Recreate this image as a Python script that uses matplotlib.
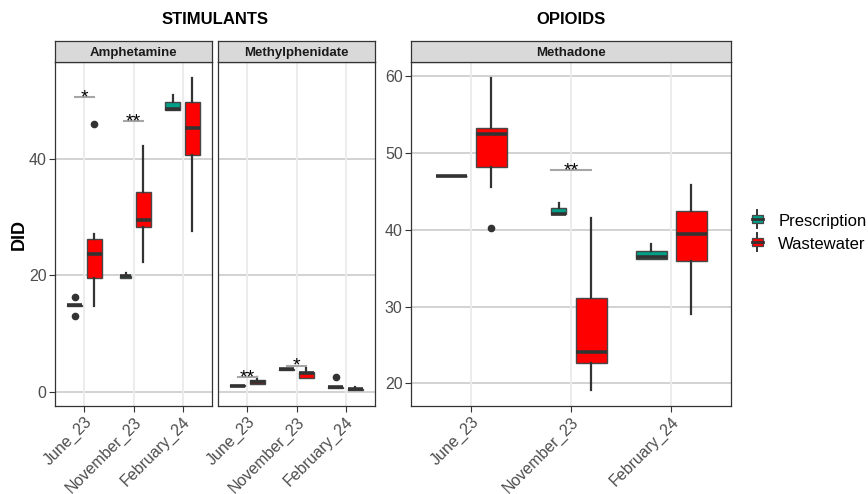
import matplotlib
matplotlib.use("Agg")
import matplotlib.pyplot as plt
from matplotlib.legend_handler import HandlerBase
from matplotlib.lines import Line2D
from matplotlib.patches import Rectangle

plt.rcParams["font.family"] = ["Liberation Sans", "DejaVu Sans"]

MONTHS = ["June_23", "November_23", "February_24"]
GROUPS = ["Prescription", "Wastewater"]

# five-number summaries per month: (whisker low, q1, median, q3, whisker high)
AMPH_PRESC = [(14.8, 14.8, 14.85, 14.9, 14.9), (19.6, 19.6, 19.8, 19.9, 20.3), (48.3, 48.3, 48.5, 49.7, 51.0)]
AMPH_PRESC_OUT = [[16.2, 13.0], [], []]
AMPH_WASTE = [(14.7, 19.6, 23.6, 26.2, 27.0), (22.2, 28.2, 29.5, 34.3, 42.2), (27.6, 40.6, 45.2, 49.7, 53.9)]
AMPH_WASTE_OUT = [[46.0], [], []]

MPH_PRESC = [(0.95, 0.95, 1.0, 1.1, 1.1), (3.8, 3.8, 3.85, 3.95, 3.95), (0.7, 0.7, 0.75, 0.85, 0.85)]
MPH_PRESC_OUT = [[], [], [2.6]]
MPH_WASTE = [(1.3, 1.3, 1.6, 2.0, 2.5), (2.3, 2.4, 3.15, 3.4, 4.1), (0.25, 0.3, 0.4, 0.55, 0.8)]
MPH_WASTE_OUT = [[], [], []]

MTD_PRESC = [(46.95, 46.95, 47.0, 47.05, 47.05), (42.0, 42.0, 42.1, 42.8, 43.5), (36.2, 36.2, 36.4, 37.3, 38.2)]
MTD_PRESC_OUT = [[], [], []]
MTD_WASTE = [(45.6, 48.2, 52.5, 53.3, 59.8), (19.1, 22.6, 24.1, 31.1, 41.5), (29.1, 35.9, 39.4, 42.5, 45.8)]
MTD_WASTE_OUT = [[40.2], [], []]

# significance brackets: (month index, height, label)
AMPH_SIG = [(0, 50.5, "*"), (1, 46.4, "**")]
MPH_SIG = [(0, 2.58, "**"), (1, 4.5, "*")]
MTD_SIG = [(1, 47.75, "**")]

FILLS = {"Prescription": "#00A087", "Wastewater": "#FF0000"}
EDGE = "#333333"
W, H = 868, 494


def px_rect(x0, y0, x1, y1):
    return [x0 / W, 1 - y1 / H, (x1 - x0) / W, (y1 - y0) / H]


def stats(five, out):
    lo, q1, med, q3, hi = five
    return dict(whislo=lo, q1=q1, med=med, q3=q3, whishi=hi, fliers=out)


def draw_boxes(ax, five_list, out_list, offsets, widths, fill):
    bs = [stats(f, o) for f, o in zip(five_list, out_list)]
    pos = [i + 1 + off for i, off in enumerate(offsets)]
    ax.bxp(bs, positions=pos, widths=widths, patch_artist=True, showcaps=False,
           boxprops=dict(facecolor=fill, edgecolor="#474747", linewidth=1.0),
           medianprops=dict(color=EDGE, linewidth=2.6, solid_capstyle="butt"),
           whiskerprops=dict(color=EDGE, linewidth=1.6),
           flierprops=dict(marker="o", markerfacecolor=EDGE, markeredgecolor=EDGE,
                           markersize=4.5), zorder=3)


def style_panel(ax, ylim, yticks, show_y):
    ax.set_xlim(0.4, 3.6)
    ax.set_ylim(*ylim)
    ax.set_xticks([1, 2, 3])
    ax.set_xticklabels(MONTHS, rotation=45, ha="right", rotation_mode="anchor")
    ax.set_yticks(yticks)
    ax.tick_params(colors=EDGE, labelcolor="#4D4D4D", labelsize=11.5, length=4, width=0.8, pad=2)
    if not show_y:
        ax.tick_params(axis="y", left=False, labelleft=False)
    for s in ax.spines.values():
        s.set_color(EDGE)
        s.set_linewidth(0.9)
    for t in yticks:
        ax.axhline(t, color="#CFCFCF", lw=1.3, zorder=0)
    for x in (1, 2, 3):
        ax.axvline(x, color="#EBEBEB", lw=1.3, zorder=0)


def add_strip(fig, x0, x1, label):
    sa = fig.add_axes(px_rect(x0, 41, x1, 62))
    sa.set_facecolor("#D9D9D9")
    sa.set_xticks([])
    sa.set_yticks([])
    for s in sa.spines.values():
        s.set_color(EDGE)
        s.set_linewidth(0.9)
    sa.text(0.5, 0.45, label, ha="center", va="center", fontsize=9.5, fontweight="bold",
            color="#1A1A1A", transform=sa.transAxes)


def add_sig(ax, sig):
    for i, y, lab in sig:
        ax.plot([i + 1 - 0.2, i + 1 + 0.2], [y, y], color="#A6A6A6", lw=1.5, zorder=4)
        ax.annotate(lab, (i + 1, y), xytext=(0, -3.8), textcoords="offset points",
                    ha="center", va="baseline", fontsize=14, color="black", zorder=5)


def padded(lo, hi):
    pad = (hi - lo) * 0.05
    return lo - pad, hi + pad


class BoxKey(HandlerBase):
    def create_artists(self, legend, orig, xd, yd, width, height, fontsize, trans):
        cx = xd + width / 2
        cy = yd + height / 2
        bw, bh = width * 0.62, height * 0.62
        whisk = Line2D([cx, cx], [yd - height * 0.2, yd + height * 1.2], color=EDGE, lw=1.4, transform=trans)
        box = Rectangle((cx - bw / 2, cy - bh / 2), bw, bh, facecolor=orig.get_facecolor(),
                        edgecolor="#474747", lw=0.9, transform=trans)
        med = Line2D([cx - bw / 2, cx + bw / 2], [cy, cy], color=EDGE, lw=2.0, transform=trans)
        return [whisk, box, med]


fig = plt.figure(figsize=(W / 100, H / 100), dpi=100)

ax_amph = fig.add_axes(px_rect(55, 62, 212, 406))
ax_mph = fig.add_axes(px_rect(218, 62, 375, 406))
ax_mtd = fig.add_axes(px_rect(411, 62, 731, 406))

stim_vals = [v for f in AMPH_PRESC + AMPH_WASTE + MPH_PRESC + MPH_WASTE for v in f]
stim_vals += [v for o in AMPH_PRESC_OUT + AMPH_WASTE_OUT + MPH_PRESC_OUT for v in o]
stim_lim = padded(min(stim_vals), max(stim_vals))
opi_vals = [v for f in MTD_PRESC + MTD_WASTE for v in f] + [v for o in MTD_WASTE_OUT for v in o]
opi_lim = padded(min(opi_vals), max(opi_vals))

draw_boxes(ax_amph, AMPH_PRESC, AMPH_PRESC_OUT, [-0.2, -0.16, -0.2], [0.31, 0.22, 0.31], FILLS["Prescription"])
draw_boxes(ax_amph, AMPH_WASTE, AMPH_WASTE_OUT, [0.2, 0.2, 0.2], [0.31, 0.31, 0.31], FILLS["Wastewater"])
draw_boxes(ax_mph, MPH_PRESC, MPH_PRESC_OUT, [-0.2, -0.2, -0.2], [0.31, 0.31, 0.31], FILLS["Prescription"])
draw_boxes(ax_mph, MPH_WASTE, MPH_WASTE_OUT, [0.2, 0.2, 0.2], [0.31, 0.31, 0.31], FILLS["Wastewater"])
draw_boxes(ax_mtd, MTD_PRESC, MTD_PRESC_OUT, [-0.2, -0.125, -0.2], [0.31, 0.15, 0.31], FILLS["Prescription"])
draw_boxes(ax_mtd, MTD_WASTE, MTD_WASTE_OUT, [0.2, 0.2, 0.2], [0.31, 0.31, 0.31], FILLS["Wastewater"])

style_panel(ax_amph, stim_lim, [0, 20, 40], True)
style_panel(ax_mph, stim_lim, [0, 20, 40], False)
style_panel(ax_mtd, opi_lim, [20, 30, 40, 50, 60], True)

add_sig(ax_amph, AMPH_SIG)
add_sig(ax_mph, MPH_SIG)
add_sig(ax_mtd, MTD_SIG)

add_strip(fig, 55, 212, "Amphetamine")
add_strip(fig, 218, 375, "Methylphenidate")
add_strip(fig, 411, 731, "Methadone")

ax_amph.set_ylabel("DID", fontsize=13, fontweight="bold", labelpad=1)

fig.text(215 / W, 1 - 19 / H, "STIMULANTS", ha="center", va="center", fontsize=12, fontweight="bold")
fig.text(571 / W, 1 - 19 / H, "OPIOIDS", ha="center", va="center", fontsize=12, fontweight="bold")

handles = [Rectangle((0, 0), 1, 1, facecolor=FILLS[g]) for g in GROUPS]
fig.legend(handles, GROUPS, loc="center left", bbox_to_anchor=(749 / W, 1 - 233 / H),
           frameon=False, fontsize=12, handler_map={Rectangle: BoxKey()},
           handlelength=1.0, handleheight=0.8, handletextpad=0.75, labelspacing=0.45,
           borderpad=0, borderaxespad=0)

fig.savefig("out.png", dpi=100)
